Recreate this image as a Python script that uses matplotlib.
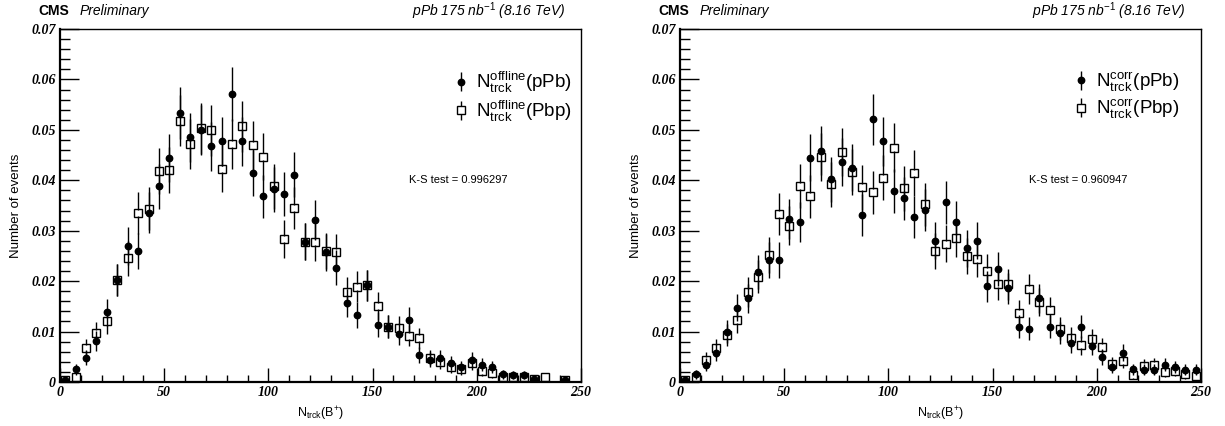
import numpy as np
import matplotlib
matplotlib.use('Agg')
import matplotlib.pyplot as plt
from matplotlib.ticker import MultipleLocator, FuncFormatter
from matplotlib.font_manager import FontProperties

plt.rcParams['mathtext.fontset'] = 'custom'
plt.rcParams['mathtext.rm'] = 'Liberation Sans'
plt.rcParams['mathtext.it'] = 'Liberation Sans:italic'
plt.rcParams['mathtext.bf'] = 'Liberation Sans:bold'
plt.rcParams['font.family'] = 'Liberation Sans'

# bins of width 5 from 0 to 250
bin_centers = np.arange(2.5, 250, 5)
nan = np.nan

# left panel: N_trck^offline
off_pPb = [0.0003, 0.0025, 0.0048, 0.0081, 0.0138, 0.0202, 0.0270, 0.0260, 0.0336, 0.0388,
           0.0444, 0.0533, 0.0485, 0.0500, 0.0467, 0.0477, 0.0571, 0.0477, 0.0415, 0.0368,
           0.0382, 0.0373, 0.0411, 0.0278, 0.0321, 0.0257, 0.0227, 0.0156, 0.0133, 0.0192,
           0.0114, 0.0110, 0.0095, 0.0123, 0.0053, 0.0044, 0.0048, 0.0038, 0.0029, 0.0044,
           0.0034, 0.0029, 0.0015, 0.0014, 0.0014, 0.0006, nan, nan, 0.0004, nan]
off_pPb_err = [0.0004, 0.0011, 0.0015, 0.0020, 0.0026, 0.0032, 0.0037, 0.0036, 0.0041, 0.0044,
               0.0047, 0.0052, 0.0049, 0.0050, 0.0048, 0.0049, 0.0054, 0.0049, 0.0046, 0.0043,
               0.0044, 0.0043, 0.0045, 0.0037, 0.0040, 0.0036, 0.0034, 0.0028, 0.0026, 0.0031,
               0.0024, 0.0023, 0.0022, 0.0025, 0.0016, 0.0015, 0.0015, 0.0014, 0.0012, 0.0015,
               0.0013, 0.0012, 0.0009, 0.0008, 0.0008, 0.0005, nan, nan, 0.0004, nan]
off_Pbp = [0.0004, 0.0009, 0.0068, 0.0097, 0.0120, 0.0202, 0.0245, 0.0335, 0.0344, 0.0419,
           0.0420, 0.0518, 0.0472, 0.0503, 0.0499, 0.0423, 0.0472, 0.0507, 0.0469, 0.0447,
           0.0388, 0.0283, 0.0345, 0.0278, 0.0277, 0.0260, 0.0257, 0.0179, 0.0189, 0.0192,
           0.0151, 0.0110, 0.0108, 0.0092, 0.0087, 0.0048, 0.0040, 0.0030, 0.0025, 0.0038,
           0.0022, 0.0017, 0.0009, 0.0009, 0.0009, 0.0006, 0.0009, nan, 0.0004, nan]
off_Pbp_err = [0.0004, 0.0007, 0.0018, 0.0022, 0.0025, 0.0032, 0.0035, 0.0041, 0.0042, 0.0046,
               0.0046, 0.0051, 0.0049, 0.0050, 0.0050, 0.0046, 0.0049, 0.0050, 0.0048, 0.0047,
               0.0044, 0.0038, 0.0042, 0.0037, 0.0037, 0.0036, 0.0036, 0.0030, 0.0031, 0.0031,
               0.0028, 0.0023, 0.0023, 0.0021, 0.0021, 0.0015, 0.0014, 0.0012, 0.0011, 0.0014,
               0.0010, 0.0009, 0.0007, 0.0007, 0.0007, 0.0005, 0.0007, nan, 0.0004, nan]

# right panel: N_trck^corr
corr_pPb = [0.0004, 0.0015, 0.0034, 0.0058, 0.0100, 0.0147, 0.0166, 0.0218, 0.0242, 0.0242,
            0.0323, 0.0317, 0.0445, 0.0459, 0.0402, 0.0436, 0.0425, 0.0331, 0.0521, 0.0477,
            0.0379, 0.0364, 0.0327, 0.0341, 0.0280, 0.0356, 0.0318, 0.0265, 0.0280, 0.0190,
            0.0224, 0.0186, 0.0110, 0.0106, 0.0166, 0.0110, 0.0097, 0.0077, 0.0110, 0.0072,
            0.0049, 0.0030, 0.0058, 0.0025, 0.0024, 0.0024, 0.0034, 0.0029, 0.0024, 0.0024]
corr_pPb_err = [0.0004, 0.0009, 0.0013, 0.0017, 0.0022, 0.0027, 0.0029, 0.0033, 0.0035, 0.0035,
                0.0040, 0.0040, 0.0047, 0.0048, 0.0045, 0.0047, 0.0046, 0.0041, 0.0051, 0.0049,
                0.0044, 0.0043, 0.0041, 0.0041, 0.0037, 0.0042, 0.0040, 0.0036, 0.0037, 0.0031,
                0.0034, 0.0031, 0.0023, 0.0023, 0.0029, 0.0023, 0.0022, 0.0020, 0.0023, 0.0019,
                0.0016, 0.0012, 0.0017, 0.0011, 0.0011, 0.0011, 0.0013, 0.0012, 0.0011, 0.0011]
corr_Pbp = [0.0004, 0.0009, 0.0044, 0.0067, 0.0093, 0.0123, 0.0179, 0.0209, 0.0252, 0.0333,
            0.0310, 0.0389, 0.0368, 0.0446, 0.0392, 0.0456, 0.0417, 0.0386, 0.0376, 0.0405,
            0.0465, 0.0384, 0.0414, 0.0352, 0.0260, 0.0274, 0.0285, 0.0250, 0.0244, 0.0220,
            0.0194, 0.0194, 0.0136, 0.0185, 0.0158, 0.0142, 0.0106, 0.0088, 0.0073, 0.0085,
            0.0069, 0.0036, 0.0042, 0.0014, 0.0032, 0.0034, 0.0019, 0.0021, 0.0015, 0.0011]
corr_Pbp_err = [0.0004, 0.0007, 0.0015, 0.0018, 0.0022, 0.0025, 0.0030, 0.0032, 0.0036, 0.0041,
                0.0039, 0.0044, 0.0043, 0.0047, 0.0044, 0.0048, 0.0046, 0.0044, 0.0043, 0.0045,
                0.0048, 0.0044, 0.0046, 0.0042, 0.0036, 0.0037, 0.0038, 0.0035, 0.0035, 0.0033,
                0.0031, 0.0031, 0.0026, 0.0030, 0.0028, 0.0027, 0.0023, 0.0021, 0.0019, 0.0021,
                0.0019, 0.0013, 0.0015, 0.0008, 0.0013, 0.0013, 0.0010, 0.0010, 0.0009, 0.0007]

ks_values = ['0.996297', '0.960947']
legend_tags = ['offline', 'corr']

W, H = 1225, 426
fig = plt.figure(figsize=(W / 100, H / 100), dpi=100)

tickfont = FontProperties(family='Liberation Serif', weight='bold', style='italic', size=10)
GAP = 0.00062  # half marker height in data units (open square, no bar inside)


def draw_panel(ax, pPb, pPb_err, Pbp, Pbp_err, tag, ks):
    x = bin_centers
    pPb = np.array(pPb); pPb_err = np.array(pPb_err)
    Pbp = np.array(Pbp); Pbp_err = np.array(Pbp_err)

    ax.errorbar(x, pPb, yerr=pPb_err, fmt='o', color='black', ms=4.6,
                elinewidth=1.0, capsize=0, zorder=3)

    # open squares: error bars stop at the marker edge
    lo_ok = Pbp_err > GAP
    ax.vlines(x[lo_ok], (Pbp - Pbp_err)[lo_ok], (Pbp - GAP)[lo_ok], color='black', lw=1.0, zorder=3)
    ax.vlines(x[lo_ok], (Pbp + GAP)[lo_ok], (Pbp + Pbp_err)[lo_ok], color='black', lw=1.0, zorder=3)
    ax.plot(x, Pbp, ls='none', marker='s', ms=5.2, mfc='none', mec='black', mew=1.0, zorder=4)

    # legend proxies
    h1 = ax.errorbar([], [], yerr=[], fmt='o', color='black', ms=4.6, elinewidth=1.0, capsize=0)
    h2 = ax.errorbar([], [], yerr=[], fmt='s', color='black', ms=5.2, mfc='white', mec='black',
                     mew=1.0, elinewidth=1.0, capsize=0)
    lab1 = r'N$_{\mathrm{trck}}^{\mathrm{%s}}$(pPb)' % tag
    lab2 = r'N$_{\mathrm{trck}}^{\mathrm{%s}}$(Pbp)' % tag
    ax.legend([h1, h2], [lab1, lab2], loc='upper left', bbox_to_anchor=(0.745, 0.905),
              frameon=False, fontsize=13.5, handlelength=0.6, handletextpad=0.5,
              labelspacing=0.2, borderaxespad=0)

    ax.text(0.765, 0.572, 'K-S test = ' + ks, transform=ax.transAxes,
            ha='center', va='center', fontsize=8)

    ax.set_xlim(0, 250)
    ax.set_ylim(0, 0.07)
    ax.xaxis.set_major_locator(MultipleLocator(50))
    ax.xaxis.set_minor_locator(MultipleLocator(10))
    ax.yaxis.set_major_locator(MultipleLocator(0.01))
    ax.yaxis.set_minor_locator(MultipleLocator(0.002))
    ax.yaxis.set_major_formatter(FuncFormatter(lambda v, p: '0' if abs(v) < 1e-9 else '%.2f' % v))
    ax.xaxis.set_major_formatter(FuncFormatter(lambda v, p: '%d' % v))
    ax.tick_params(axis='x', which='major', direction='in', length=10, width=1, pad=3,
                   top=False)
    ax.tick_params(axis='x', which='minor', direction='in', length=5, width=1, top=False)
    ax.tick_params(axis='y', which='major', direction='in', length=14, width=1, pad=3,
                   right=False)
    ax.tick_params(axis='y', which='minor', direction='in', length=7, width=1, right=False)
    for lab in ax.get_xticklabels() + ax.get_yticklabels():
        lab.set_fontproperties(tickfont)
    for s in ['left', 'bottom']:
        ax.spines[s].set_linewidth(1.6)
    for s in ['top', 'right']:
        ax.spines[s].set_linewidth(1.0)

    ax.set_xlabel(r'N$_{\mathrm{trck}}$(B$^{+}$)', fontsize=9, labelpad=4)
    ax.set_ylabel('Number of events', fontsize=9.5, labelpad=7)


panels = [
    (60, off_pPb, off_pPb_err, off_Pbp, off_Pbp_err),
    (680, corr_pPb, corr_pPb_err, corr_Pbp, corr_Pbp_err),
]
for i, (x0, a, ae, b, be) in enumerate(panels):
    ax = fig.add_axes([x0 / W, 1 - 382 / H, 521 / W, 353 / H])
    draw_panel(ax, a, ae, b, be, legend_tags[i], ks_values[i])
    off = x0 - 60
    fig.text((38 + off) / W, 1 - 11 / H, 'CMS', fontsize=10, fontweight='bold',
             ha='left', va='center')
    fig.text((80 + off) / W, 1 - 11 / H, 'Preliminary', fontsize=10, style='italic',
             ha='left', va='center')
    fig.text((566 + off) / W, 1 - 11 / H, r'pPb 175 nb$^{\mathit{-1}}$ (8.16 TeV)', fontsize=10,
             style='italic', ha='right', va='center')

fig.savefig('out.png', dpi=100)
